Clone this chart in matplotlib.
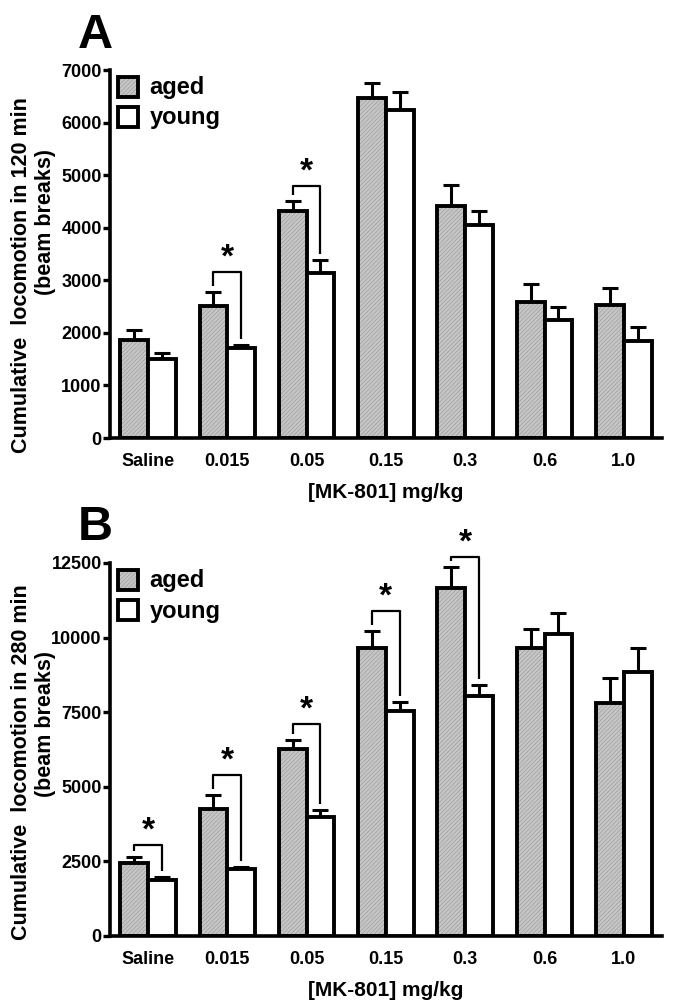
import numpy as np
import matplotlib
matplotlib.use('Agg')
import matplotlib.pyplot as plt
from matplotlib.patches import Rectangle

plt.rcParams['font.family'] = ['Liberation Sans', 'DejaVu Sans']
plt.rcParams['font.weight'] = 'bold'
plt.rcParams['hatch.linewidth'] = 0.45

doses = ['Saline', '0.015', '0.05', '0.15', '0.3', '0.6', '1.0']

# panel A: 120 min
aged_a = [1860, 2520, 4320, 6460, 4420, 2590, 2530]
aged_a_err = [190, 260, 190, 290, 400, 340, 320]
young_a = [1500, 1720, 3140, 6240, 4050, 2250, 1840]
young_a_err = [110, 50, 250, 350, 260, 250, 270]
sig_a = {1: 3150, 2: 4790}

# panel B: 280 min
aged_b = [2450, 4240, 6260, 9640, 11650, 9640, 7810]
aged_b_err = [210, 470, 320, 570, 700, 660, 830]
young_b = [1880, 2230, 3990, 7540, 8040, 10110, 8850]
young_b_err = [90, 70, 230, 300, 380, 700, 790]
sig_b = {0: 3050, 1: 5410, 2: 7110, 3: 10880, 4: 12700}

x = np.arange(len(doses))
w = 0.35
hatch_face = '#c6c6c6'
hatch_col = '#9a9a9a'


def draw_panel(ax, aged, aged_err, young, young_err, sig, ymax, yticks):
    # hatched grey fill, then black outlines on top
    ax.bar(x - w / 2, aged, w, color=hatch_face, edgecolor=hatch_col,
           hatch='////////', linewidth=0, zorder=2)
    ax.bar(x - w / 2, aged, w, facecolor='none', edgecolor='black',
           linewidth=2.8, zorder=3)
    ax.bar(x + w / 2, young, w, color='white', edgecolor='black',
           linewidth=2.8, zorder=3)
    zeros = np.zeros(len(x))
    ax.errorbar(x - w / 2, aged, yerr=[zeros, aged_err], fmt='none',
                ecolor='black', elinewidth=2.2, capsize=5.5, capthick=2.2, zorder=1)
    ax.errorbar(x + w / 2, young, yerr=[zeros, young_err], fmt='none',
                ecolor='black', elinewidth=2.2, capsize=5.5, capthick=2.2, zorder=1)

    gap = 0.016 * ymax
    for i, h in sig.items():
        left_bot = aged[i] + aged_err[i] + gap
        right_bot = young[i] + young_err[i] + gap
        ax.plot([x[i] - w / 2, x[i] - w / 2, x[i] + w / 2, x[i] + w / 2],
                [left_bot, h, h, right_bot], color='black', lw=1.6,
                solid_capstyle='butt', zorder=4, clip_on=False)
        ax.annotate('*', (x[i], h), xytext=(0, 10), textcoords='offset points',
                    ha='center', va='center', fontsize=24, fontweight='bold',
                    annotation_clip=False)

    ax.set_xlim(-0.48, 6.48)
    ax.set_ylim(0, ymax)
    ax.set_yticks(yticks)
    ax.set_xticks(x)
    ax.set_xticklabels(doses)
    for s in ['top', 'right']:
        ax.spines[s].set_visible(False)
    for s in ['left', 'bottom']:
        ax.spines[s].set_linewidth(2.6)
    ax.tick_params(axis='y', length=5, width=2.4, labelsize=13, pad=1)
    ax.tick_params(axis='x', length=0, labelsize=13, pad=11)
    ax.set_xlabel('[MK-801] mg/kg', fontsize=15, fontweight='bold', labelpad=9)

    # legend squares
    ax.add_patch(Rectangle((0.0145, 0.927), 0.036, 0.054, transform=ax.transAxes,
                           facecolor=hatch_face, edgecolor=hatch_col, hatch='////////',
                           linewidth=0, clip_on=False, zorder=5))
    ax.add_patch(Rectangle((0.0145, 0.927), 0.036, 0.054, transform=ax.transAxes,
                           facecolor='none', edgecolor='black', linewidth=2.8,
                           clip_on=False, zorder=6))
    ax.add_patch(Rectangle((0.0145, 0.846), 0.036, 0.054, transform=ax.transAxes,
                           facecolor='white', edgecolor='black', linewidth=2.8,
                           clip_on=False, zorder=6))
    ax.text(0.072, 0.953, 'aged', transform=ax.transAxes, fontsize=17,
            fontweight='bold', va='center')
    ax.text(0.072, 0.870, 'young', transform=ax.transAxes, fontsize=17,
            fontweight='bold', va='center')


fig = plt.figure(figsize=(6.78, 10.06), dpi=100)
ax_a = fig.add_axes([0.1622, 0.5646, 0.814, 0.3658])
ax_b = fig.add_axes([0.1622, 0.0696, 0.814, 0.3708])

draw_panel(ax_a, aged_a, aged_a_err, young_a, young_a_err, sig_a, 7000,
           np.arange(0, 7001, 1000))
draw_panel(ax_b, aged_b, aged_b_err, young_b, young_b_err, sig_b, 12500,
           np.arange(0, 12501, 2500))

ylab = dict(rotation=90, ha='center', va='center', fontsize=15.5, fontweight='bold')
fig.text(22 / 678, 1 - 275 / 1006, 'Cumulative  locomotion in 120 min', **ylab)
fig.text(46 / 678, 1 - 222 / 1006, '(beam breaks)', **ylab)
fig.text(22 / 678, 1 - 762 / 1006, 'Cumulative  locomotion in 280 min', **ylab)
fig.text(46 / 678, 1 - 724 / 1006, '(beam breaks)', **ylab)

fig.text(0.115, 1 - 35 / 1006, 'A', ha='left', va='center', fontsize=35, fontweight='bold')
fig.text(0.115, 1 - 527 / 1006, 'B', ha='left', va='center', fontsize=35, fontweight='bold')

fig.savefig('out.png', dpi=100)
